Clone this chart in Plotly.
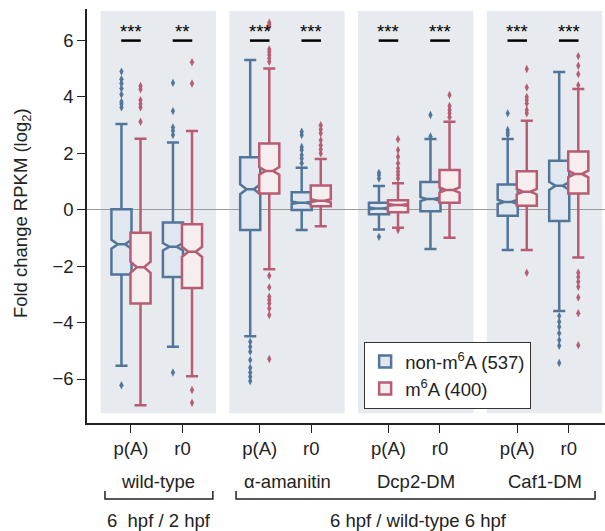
import plotly.graph_objects as go

# ---------------- data ----------------
panels = ["wild-type", "α-amanitin", "Dcp2-DM", "Caf1-DM"]
conditions = ["p(A)", "r0"]
stars = ["***", "**", "***", "***", "***", "***", "***", "***"]

n_non = 537
n_m6a = 400

non_q1 = [-2.29, -2.38, -0.72, -0.01, -0.16, -0.05, -0.21, -0.40]
non_med = [-1.22, -1.31, 0.73, 0.25, 0.05, 0.38, 0.28, 0.85]
non_q3 = [0.02, -0.45, 1.86, 0.62, 0.25, 0.99, 0.90, 1.74]
non_lo = [-5.53, -4.86, -4.48, -0.72, -0.70, -1.39, -1.43, -3.59]
non_hi = [3.04, 2.39, 5.31, 1.49, 0.84, 2.51, 2.51, 4.89]
non_out = [
    [4.9, 4.63, 4.48, 4.3, 4.09, 3.83, 3.75, 3.63, -6.22],
    [4.5, 3.5, 2.92, 2.8, 2.65, -5.77],
    [-4.68, -4.86, -5.03, -5.33, -5.6, -5.77, -5.92, -6.07],
    [2.77, 2.65, 2.23, 2.12, 1.94, 1.82, 1.65],
    [1.31, 1.23, 1.11, -0.96],
    [3.36, 2.6],
    [3.42, 2.83, 2.73, 2.65],
    [-3.77, -3.97, -4.15, -4.38, -4.62, -4.82, -5.43],
]

m6a_q1 = [-3.32, -2.77, 0.58, 0.13, -0.09, 0.25, 0.14, 0.58]
m6a_med = [-2.04, -1.49, 1.38, 0.32, 0.17, 0.70, 0.64, 1.27]
m6a_q3 = [-0.81, -0.51, 2.35, 0.86, 0.34, 1.41, 1.37, 2.07]
m6a_lo = [-6.93, -5.90, -2.11, -0.58, -0.64, -0.99, -1.43, -1.69]
m6a_hi = [2.52, 2.79, 5.01, 1.80, 0.94, 3.12, 3.16, 4.28]
m6a_out = [
    [4.39, 4.27, 3.89, 3.75, 3.63, 3.12],
    [5.23, 4.48, -6.39, -6.84],
    [6.63, 6.55, 6.49, 5.69, 5.6, 5.49, 5.37, 5.25,
     -2.34, -2.75, -3.08, -3.2, -3.32, -3.5, -3.73, -5.29],
    [3.0, 2.85, 2.71, 2.47, 2.29, 2.14, 2.0],
    [2.5, 2.12, 1.88, 1.65, 1.47, 1.35, 1.23, 1.11, -0.72],
    [4.07, 3.68, 3.54, 3.42, 3.28],
    [4.99, 4.34, 4.0, 3.89, 3.77, 3.54, 3.42, -2.23],
    [5.45, 5.11, 4.81, 4.42, -2.23, -2.38, -2.55, -2.73, -3.11, -3.67, -4.8],
]

# ---------------- style / layout ----------------
BLUE = "#52769a"
BLUE_FILL = "#e1e7ee"
PINK = "#b85c74"
PINK_FILL = "#f6edef"
PANEL = "#e7eaee"
FONT = "Liberation Sans, Arial, sans-serif"
FS = 18.5

PANEL_STEP = 2.5
OFF = 0.185
BOXW = 0.39

centers = [p * PANEL_STEP + c for p in range(len(panels)) for c in range(len(conditions))]
ticktext = [c for _ in panels for c in conditions]


def notch(q1, q3, n):
    return [1.57 * (b - a) / n ** 0.5 for a, b in zip(q1, q3)]


fig = go.Figure()

series = [
    ("non-m<sup>6</sup>A (537)", -OFF, BLUE, BLUE_FILL, non_q1, non_med, non_q3, non_lo, non_hi, non_out, n_non),
    ("m<sup>6</sup>A (400)", OFF, PINK, PINK_FILL, m6a_q1, m6a_med, m6a_q3, m6a_lo, m6a_hi, m6a_out, n_m6a),
]

for name, off, col, fill, q1, med, q3, lo, hi, outs, n in series:
    xs = [c + off for c in centers]
    fig.add_trace(go.Box(
        name=name, x=xs, q1=q1, median=med, q3=q3,
        lowerfence=lo, upperfence=hi,
        notched=True, notchspan=notch(q1, q3, n), notchwidth=0.32,
        width=BOXW, whiskerwidth=0.6,
        line=dict(color=col, width=2.5), fillcolor=fill,
        boxpoints=False, hoverinfo="skip",
    ))
    ox, oy = [], []
    for x, vals in zip(xs, outs):
        for v in vals:
            ox.append(x)
            oy.append(v)
    fig.add_trace(go.Scatter(
        x=ox, y=oy, mode="markers", showlegend=False, hoverinfo="skip",
        marker=dict(symbol="diamond-tall", size=6, color=col, line=dict(width=0)),
    ))

shapes = []
for p in range(len(panels)):
    shapes.append(dict(type="rect", xref="x", yref="y", layer="below",
                       x0=p * PANEL_STEP - 0.59, x1=p * PANEL_STEP + 1.65,
                       y0=-7.21, y1=7.05, fillcolor=PANEL, line=dict(width=0)))

annotations = []
for c, s in zip(centers, stars):
    shapes.append(dict(type="line", xref="x", yref="y", x0=c - 0.19, x1=c + 0.19,
                       y0=6.0, y1=6.0, line=dict(color="black", width=2.5)))
    annotations.append(dict(x=c, y=6.34, xref="x", yref="y", text=s, showarrow=False,
                            font=dict(size=FS, color="black", family=FONT)))

for p, lab in enumerate(panels):
    annotations.append(dict(x=p * PANEL_STEP + 0.53, y=-0.1425, xref="x", yref="paper",
                            text=lab, showarrow=False, yanchor="middle",
                            font=dict(size=FS, color="#222", family=FONT)))

brackets = [(-0.505, 1.59, "6\u00a0 hpf / 2 hpf", 0.54),
            (2.04, 9.01, "6 hpf / wild-type 6 hpf", 5.58)]
for x0, x1, lab, xc in brackets:
    shapes.append(dict(type="path", xref="x", yref="paper",
                       path=f"M {x0},-0.1643 L {x0},-0.1836 L {x1},-0.1836 L {x1},-0.1643",
                       line=dict(color="#222", width=1.5)))
    annotations.append(dict(x=xc, y=-0.2367, xref="x", yref="paper", text=lab,
                            showarrow=False, yanchor="middle",
                            font=dict(size=FS, color="#222", family=FONT)))

annotations.append(dict(x=-0.1255, y=0.507, xref="paper", yref="paper",
                        text="Fold change RPKM (log<sub>2</sub>)", textangle=-90,
                        showarrow=False, xanchor="center", yanchor="middle",
                        font=dict(size=FS, color="#222", family=FONT)))

fig.update_layout(
    width=605, height=531,
    margin=dict(l=87, r=0, t=9, b=108),
    paper_bgcolor="white", plot_bgcolor="white",
    font=dict(family=FONT, size=FS, color="#222"),
    boxmode="overlay",
    shapes=shapes, annotations=annotations,
    legend=dict(x=0.535, y=0.196, xanchor="left", yanchor="top",
                bgcolor="white", bordercolor="#333", borderwidth=1,
                font=dict(size=FS, family=FONT, color="#222"),
                tracegroupgap=0, itemwidth=30),
    xaxis=dict(range=[-0.854, 9.204], tickvals=centers, ticktext=ticktext,
               showgrid=False, zeroline=False, showline=True, linecolor="#222",
               linewidth=1.5, ticks="outside", ticklen=8, tickcolor="#222",
               tickwidth=1.2, tickfont=dict(size=FS, family=FONT, color="#222")),
    yaxis=dict(range=[-7.56, 7.12], tickvals=[-6, -4, -2, 0, 2, 4, 6],
               showgrid=False, zeroline=True, zerolinecolor="#9a9a9a", zerolinewidth=1.2,
               showline=True, linecolor="#222", linewidth=1.5, ticks="outside",
               ticklen=8, tickcolor="#222", tickwidth=1.2,
               tickfont=dict(size=FS, family=FONT, color="#222")),
)

fig.write_html("out.html")
